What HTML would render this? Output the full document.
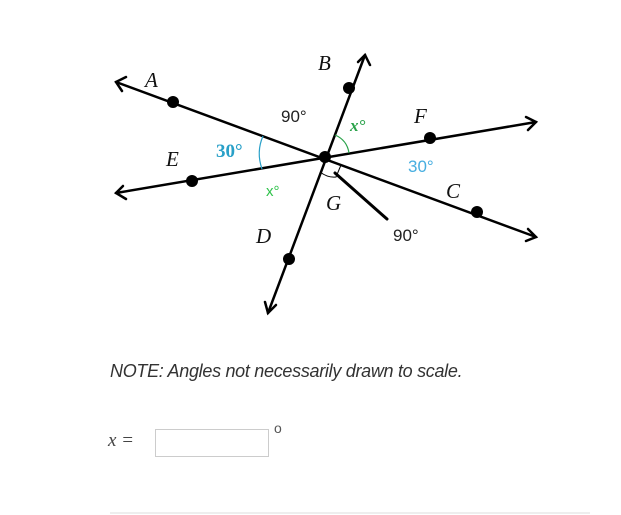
<!DOCTYPE html>
<html><head><style>
body{margin:0;background:#fff;width:621px;height:515px;overflow:hidden;position:relative;font-family:"Liberation Sans",sans-serif}
.note{position:absolute;left:110px;top:361px;font-size:18px;font-style:italic;color:#333;letter-spacing:-0.3px}
.x{position:absolute;left:108px;top:430px;font-family:"Liberation Serif",serif;font-style:italic;font-size:19px;color:#444}
.box{position:absolute;left:155px;top:429px;width:112px;height:26px;border:1px solid #ccc}
.deg{position:absolute;left:274px;top:420px;font-size:14px;color:#555}
.hr{position:absolute;left:110px;top:512px;width:480px;height:2px;background:#eee}
</style></head><body>
<svg width="621" height="340" style="position:absolute;left:0;top:0">
<g stroke="#000" stroke-width="2.5" fill="none" stroke-linecap="round">
<line x1="116" y1="82" x2="536" y2="237"/>
<line x1="116" y1="193" x2="536" y2="122"/>
<line x1="365" y1="55" x2="268" y2="313"/>
<line x1="335" y1="173" x2="387" y2="219" stroke-width="3"/>
<polyline points="126,77 116,82 122,91"/>
<polyline points="528,229 536,237 526,241"/>
<polyline points="123,186 116,193 126,199"/>
<polyline points="526,117 536,122 528,130"/>
<polyline points="358,62 365,55 370,65"/>
<polyline points="265,302 268,313 276,305"/>
</g>
<path d="M320,172 Q328,178 336,177 L341,165" stroke="#000" stroke-width="1" fill="none"/>
<path d="M263,136 Q256,152 262,169" stroke="#29a0c8" stroke-width="1.2" fill="none"/>
<path d="M335,135 Q347,140 349,153" stroke="#2aa24a" stroke-width="1.2" fill="none"/>
<g fill="#000">
<circle cx="325" cy="157" r="6"/>
<circle cx="173" cy="102" r="6"/><circle cx="477" cy="212" r="6"/>
<circle cx="192" cy="181" r="6"/><circle cx="430" cy="138" r="6"/>
<circle cx="349" cy="88" r="6"/><circle cx="289" cy="259" r="6"/>
</g>
<g font-family="Liberation Serif,serif" font-style="italic" font-size="21" fill="#111">
<text x="145" y="87">A</text><text x="318" y="70">B</text>
<text x="446" y="198">C</text><text x="256" y="243">D</text>
<text x="166" y="166">E</text><text x="414" y="123">F</text>
<text x="326" y="210">G</text>
</g>
<g font-family="Liberation Sans,sans-serif" font-size="17">
<text x="281" y="122" fill="#222">90°</text>
<text x="393" y="241" fill="#222">90°</text>
<text x="216" y="157" fill="#29a0c8" font-family="Liberation Serif,serif" font-weight="bold" font-size="19">30°</text>
<text x="408" y="172" fill="#47aee0">30°</text>
<text x="350" y="131" fill="#2aa24a" font-family="Liberation Serif,serif" font-style="italic" font-weight="bold">x°</text>
<text x="266" y="196" fill="#2ec24a" font-size="15">x°</text>
</g>
</svg>
<div class="note">NOTE: Angles not necessarily drawn to scale.</div>
<div class="x">x =</div>
<div class="box"></div>
<div class="deg">o</div>
<div class="hr"></div>
</body></html>
